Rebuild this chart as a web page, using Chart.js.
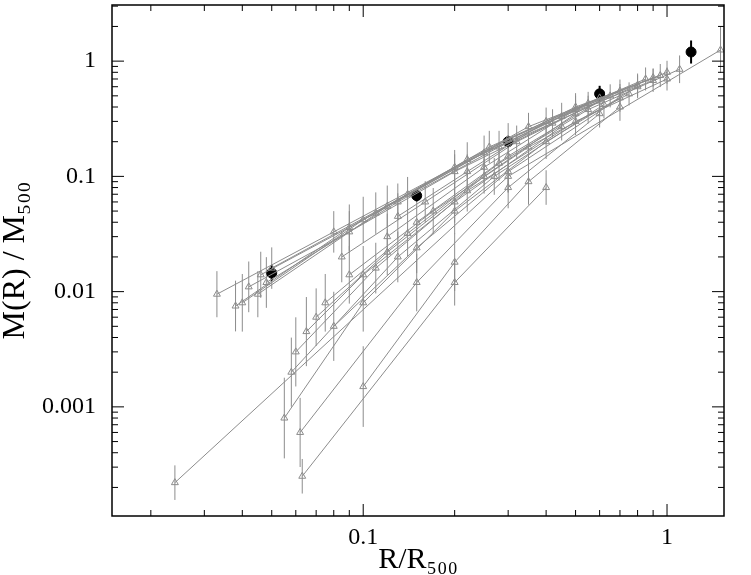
<!DOCTYPE html>
<html><head><meta charset="utf-8">
<script src="https://cdn.jsdelivr.net/npm/chart.js@4"></script>
<style>html,body{margin:0;padding:0;background:#fff}#c{width:751px;height:575px}</style>
</head><body><div id="c"><canvas id="cv" width="751" height="575"></canvas></div>
<script>
// Gray profiles: [R/R500, M/M500]
const profiles = [
 [[0.033,0.0095],[0.08,0.033],[0.2,0.12],[0.45,0.33],[0.9,0.68]],
 [[0.038,0.0075],[0.09,0.036],[0.22,0.14],[0.5,0.4],[0.95,0.75]],
 [[0.04,0.008],[0.1,0.042],[0.25,0.16],[0.55,0.43]],
 [[0.045,0.0095],[0.12,0.055],[0.3,0.21],[0.7,0.55]],
 [[0.048,0.012],[0.13,0.06],[0.28,0.18],[0.8,0.62]],
 [[0.05,0.016],[0.14,0.07],[0.35,0.27],[0.9,0.72]],
 [[0.046,0.014],[0.11,0.048],[0.26,0.18],[0.6,0.48]],
 [[0.042,0.011],[0.09,0.033],[0.2,0.11],[0.42,0.29]],
 [[0.024,0.00022],[0.3,0.1],[1.5,1.25]],
 [[0.063,0.00025],[0.2,0.012],[0.4,0.08]],
 [[0.062,0.0006],[0.15,0.012],[0.3,0.08],[0.6,0.35]],
 [[0.055,0.0008],[0.1,0.008],[0.2,0.05],[0.4,0.2],[0.8,0.6]],
 [[0.065,0.0045],[0.1,0.014],[0.2,0.06],[0.45,0.27]],
 [[0.07,0.006],[0.12,0.022],[0.25,0.1],[0.5,0.35]],
 [[0.08,0.005],[0.15,0.024],[0.3,0.11],[0.7,0.48]],
 [[0.1,0.0015],[0.2,0.018],[0.35,0.09],[0.7,0.4]],
 [[0.06,0.003],[0.11,0.016],[0.22,0.075],[0.5,0.3],[1.0,0.7]],
 [[0.09,0.014],[0.17,0.05],[0.35,0.18],[0.75,0.52]],
 [[0.12,0.03],[0.25,0.12],[0.5,0.38],[1.0,0.8]],
 [[0.13,0.045],[0.22,0.11],[0.4,0.3],[0.85,0.7]],
 [[0.15,0.04],[0.3,0.15],[0.6,0.45]],
 [[0.085,0.02],[0.16,0.06],[0.32,0.2],[0.65,0.5]],
 [[0.075,0.008],[0.14,0.032],[0.28,0.13],[0.55,0.38],[1.1,0.85]],
 [[0.058,0.002],[0.13,0.02],[0.27,0.1],[0.62,0.42]]
];
const profileErr = [
 [0.2,0.18,0.15,0.12,0.1],[0.22,0.2,0.15,0.12,0.1],[0.25,0.2,0.15,0.1],[0.2,0.18,0.14,0.1],
 [0.22,0.16,0.14,0.1],[0.18,0.15,0.12,0.08],[0.2,0.18,0.14,0.1],[0.22,0.18,0.15,0.12],
 [0.15,0.14,0.2],[0.15,0.2,0.15],[0.3,0.25,0.18,0.12],[0.35,0.25,0.2,0.15,0.1],
 [0.3,0.25,0.18,0.12],[0.25,0.2,0.15,0.12],[0.3,0.22,0.18,0.12],[0.35,0.25,0.2,0.12],
 [0.3,0.22,0.18,0.12,0.1],[0.25,0.2,0.15,0.1],[0.2,0.15,0.12,0.1],[0.2,0.15,0.12,0.1],
 [0.2,0.15,0.12],[0.22,0.18,0.14,0.1],[0.25,0.2,0.15,0.12,0.12],[0.3,0.22,0.16,0.12]
];
// Black stacked points
const stackR = [0.05,0.15,0.3,0.6,1.2];
const stackM = [0.0145,0.068,0.2,0.52,1.2];
const stackErr = [0.07,0.05,0.05,0.07,0.1];
const xMajor = [0.1,1];
const yMajor = [0.001,0.01,0.1,1];

const datasets = profiles.map((p,i)=>({
  data:p.map(q=>({x:q[0],y:q[1]})), err:profileErr[i],
  borderColor:'#8c8c8c', borderWidth:1, showLine:true, fill:false,
  pointStyle:'triangle', pointRadius:4, pointBorderColor:'#8c8c8c', pointBackgroundColor:'rgba(0,0,0,0)', pointBorderWidth:1
}));
datasets.push({data:stackR.map((r,i)=>({x:r,y:stackM[i]})), err:stackErr, black:true,
  showLine:false, pointStyle:'circle', pointRadius:5, pointBackgroundColor:'#000', pointBorderColor:'#000'});

function minorTicks(min,max){const t=[];for(let e=-5;e<2;e++)for(let k=1;k<10;k++){const v=k*Math.pow(10,e);if(v>=min&&v<=max)t.push(v);}return t;}

const deco = {
  id:'deco',
  afterLayout(c){
    const ys=c.scales.y;
    ys.top=5; ys.height=ys.bottom-5; ys.configure();
    ys._labelItems=null; ys._gridLineItems=null;
    c.chartArea.top=5; c.chartArea.height=c.chartArea.bottom-5;
  },
  beforeDatasetsDraw(c){
    const ctx=c.ctx;
    c.data.datasets.forEach((ds,di)=>{
      const xs=c.scales.x, ys=c.scales.y;
      ctx.save();ctx.strokeStyle=ds.black?'#000':'#8c8c8c';ctx.lineWidth=ds.black?2:1;
      ds.data.forEach((p,i)=>{const e=ds.err[i];const px=xs.getPixelForValue(p.x);
        ctx.beginPath();ctx.moveTo(px,ys.getPixelForValue(p.y*Math.pow(10,e)));ctx.lineTo(px,ys.getPixelForValue(p.y/Math.pow(10,e)));ctx.stroke();});
      ctx.restore();
    });
  },
  afterDraw(c){
    const ctx=c.ctx,a=c.chartArea,xs=c.scales.x,ys=c.scales.y;
    ctx.save();ctx.strokeStyle='#000';ctx.lineWidth=1.5;
    ctx.strokeRect(a.left,a.top,a.right-a.left,a.bottom-a.top);
    ctx.lineWidth=1;
    minorTicks(xs.min,xs.max).forEach(v=>{const p=xs.getPixelForValue(v);const L=xMajor.some(m=>Math.abs(m-v)/m<1e-6)?12:6;
      ctx.beginPath();ctx.moveTo(p,a.bottom);ctx.lineTo(p,a.bottom-L);ctx.moveTo(p,a.top);ctx.lineTo(p,a.top+L);ctx.stroke();});
    minorTicks(ys.min,ys.max).forEach(v=>{const p=ys.getPixelForValue(v);const L=yMajor.some(m=>Math.abs(m-v)/m<1e-6)?12:6;
      ctx.beginPath();ctx.moveTo(a.left,p);ctx.lineTo(a.left+L,p);ctx.moveTo(a.right,p);ctx.lineTo(a.right-L,p);ctx.stroke();});
    ctx.restore();
  }
};
const serif = "Liberation Serif";
new Chart(document.getElementById('cv'),{
  type:'scatter', data:{datasets},
  plugins:[deco],
  options:{responsive:false,animation:false,
    layout:{padding:{top:5,right:27,left:0,bottom:0}},
    plugins:{legend:{display:false},tooltip:{enabled:false}},
    scales:{
      x:{type:'logarithmic',min:0.0149,max:1.54,
        grid:{display:false},border:{display:false},
        afterBuildTicks:s=>{s.ticks=xMajor.map(v=>({value:v}));},
        afterFit:s=>{s.height=59;},
        ticks:{color:'#000',font:{family:serif,size:24,lineHeight:1},padding:2,callback:v=>String(v)},
        title:{display:true,text:'R/R₅₀₀',color:'#000',font:{family:serif,size:30,lineHeight:1},padding:{top:0,bottom:0}}},
      y:{type:'logarithmic',min:0.000113,max:3.07,
        grid:{display:false},border:{display:false},
        afterBuildTicks:s=>{s.ticks=yMajor.map(v=>({value:v}));},
        afterFit:s=>{s.width=112;},
        ticks:{color:'#000',font:{family:serif,size:24,lineHeight:1},padding:8,callback:v=>String(v)},
        title:{display:true,text:'M(R) / M₅₀₀',color:'#000',font:{family:serif,size:32,lineHeight:1},padding:{top:0,bottom:2}}}
    }}
});
</script></body></html>
